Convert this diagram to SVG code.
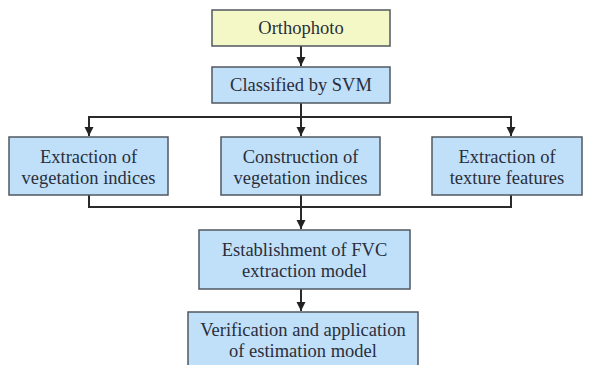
<svg xmlns="http://www.w3.org/2000/svg" width="592" height="365" viewBox="0 0 592 365">
<defs>
<marker id="ah" markerWidth="10" markerHeight="10" refX="9" refY="5" orient="auto" markerUnits="userSpaceOnUse">
<path d="M0,0.5 L9,5 L0,9.5 Z" fill="#222"/>
</marker>
</defs>
<style>
.box{fill:#c0e0fa;stroke:#505860;stroke-width:1.5}
.yel{fill:#f4f8c6;stroke:#505860;stroke-width:1.5}
text{font-family:"Liberation Serif","Times New Roman",serif;font-size:18.5px;fill:#2a2e3a;text-anchor:middle}
.ln{fill:none;stroke:#2a2a2a;stroke-width:2}
</style>
<rect width="592" height="365" fill="#fff"/>
<g id="connectors">
<line class="ln" x1="301" y1="46" x2="301" y2="66" marker-end="url(#ah)"/>
<line class="ln" x1="301" y1="103" x2="301" y2="117"/>
<polyline class="ln" points="89,136 89,117 511,117 511,136" />
<line class="ln" x1="89" y1="117" x2="89" y2="136" marker-end="url(#ah)"/>
<line class="ln" x1="301" y1="117" x2="301" y2="136" marker-end="url(#ah)"/>
<line class="ln" x1="511" y1="117" x2="511" y2="136" marker-end="url(#ah)"/>
<polyline class="ln" points="89,195 89,207 511,207 511,195"/>
<line class="ln" x1="301" y1="195" x2="301" y2="229" marker-end="url(#ah)"/>
<line class="ln" x1="301" y1="289" x2="301" y2="311" marker-end="url(#ah)"/>
</g>
<g id="orthophoto">
<rect class="yel" x="212" y="10" width="178" height="36"/>
<text x="301" y="34">Orthophoto</text>
</g>
<g id="svm">
<rect class="box" x="212" y="67" width="178" height="36"/>
<text x="301" y="91">Classified by SVM</text>
</g>
<g id="extract-vi">
<rect class="box" x="9" y="137" width="159" height="58"/>
<text x="88.5" y="163">Extraction of</text>
<text x="88.5" y="184">vegetation indices</text>
</g>
<g id="construct-vi">
<rect class="box" x="221" y="137" width="159" height="58"/>
<text x="300.5" y="163">Construction of</text>
<text x="300.5" y="184">vegetation indices</text>
</g>
<g id="texture">
<rect class="box" x="432" y="137" width="150" height="58"/>
<text x="507" y="163">Extraction of</text>
<text x="507" y="184">texture features</text>
</g>
<g id="fvc">
<rect class="box" x="199" y="230" width="211" height="59"/>
<text x="304.5" y="256">Establishment of FVC</text>
<text x="304.5" y="277">extraction model</text>
</g>
<g id="verify">
<rect class="box" x="188" y="312" width="230" height="62"/>
<text x="303" y="336">Verification and application</text>
<text x="303" y="357">of estimation model</text>
</g>
</svg>
